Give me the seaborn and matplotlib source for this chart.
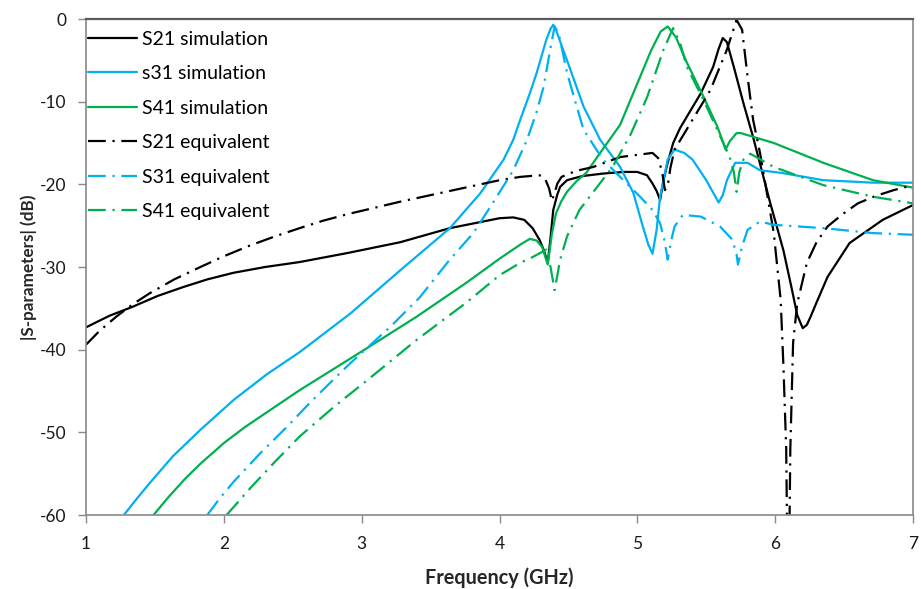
import matplotlib
matplotlib.use("Agg")
import matplotlib.pyplot as plt
import seaborn as sns

# ---- S21 (black) ----
freq_s21_sim = [1.0, 1.17, 1.34, 1.52, 1.71, 1.88, 2.07, 2.3, 2.55, 2.9, 3.28, 3.64, 4.0,
                4.1, 4.18, 4.24, 4.29, 4.32, 4.35, 4.37, 4.39, 4.42, 4.44, 4.49, 4.6, 4.75,
                4.9, 5.0, 5.07, 5.11, 5.14, 5.165, 5.19, 5.22, 5.26, 5.31, 5.36, 5.46, 5.55,
                5.59, 5.62, 5.65, 5.70, 5.77, 5.84, 5.96, 6.06, 6.12, 6.16, 6.2, 6.23, 6.26,
                6.3, 6.38, 6.54, 6.78, 7.0]
db_s21_sim = [-37.3, -35.9, -34.8, -33.5, -32.4, -31.5, -30.7, -30.0, -29.4, -28.3, -27.0,
              -25.3, -24.1, -24.0, -24.3, -25.3, -26.7, -27.9, -29.5, -26.5, -23.1, -21.2,
              -20.3, -19.5, -19.0, -18.7, -18.5, -18.5, -18.9, -19.9, -20.8, -21.9, -19.5,
              -17.4, -15.0, -13.2, -11.8, -9.0, -5.8, -3.6, -2.3, -2.8, -5.8, -10.2, -14.3,
              -22.0, -28.0, -32.6, -35.8, -37.4, -37.0, -35.9, -34.3, -31.2, -27.1, -24.3,
              -22.5]

freq_s21_eq = [1.0, 1.1, 1.22, 1.34, 1.46, 1.64, 1.83, 2.0, 2.19, 2.37, 2.55, 2.72, 2.9,
               3.28, 3.64, 4.0, 4.15, 4.29, 4.33, 4.36, 4.38, 4.40, 4.42, 4.45, 4.55, 4.68,
               4.875, 5.11, 5.15, 5.18, 5.20, 5.22, 5.24, 5.27, 5.40, 5.53, 5.65, 5.72,
               5.76, 5.80, 5.84, 5.89, 5.99, 6.04, 6.06, 6.08, 6.095, 6.11, 6.13, 6.16,
               6.23, 6.30, 6.38, 6.49, 6.60, 6.73, 6.86, 7.0]
db_s21_eq = [-39.4, -37.7, -36.0, -34.5, -33.2, -31.5, -30.0, -28.7, -27.4, -26.3, -25.3,
             -24.4, -23.6, -22.1, -20.8, -19.5, -19.1, -18.9, -19.3, -20.5, -22.0, -21.0,
             -19.9, -19.1, -18.4, -17.9, -16.7, -16.2, -16.8, -18.5, -20.7, -20.2, -18.0,
             -15.8, -12.2, -8.6, -3.7, -0.1, -1.3, -7.0, -12.2, -16.2, -25.9, -34.0, -42.0,
             -52.0, -75.0, -52.0, -39.2, -34.4, -29.5, -27.0, -25.1, -23.6, -22.3, -21.4,
             -20.7, -20.1]

# ---- S31 (blue) ----
freq_s31_sim = [1.275, 1.37, 1.464, 1.63, 1.83, 2.07, 2.31, 2.55, 2.92, 3.28, 3.64, 3.86,
                4.03, 4.10, 4.15, 4.22, 4.27, 4.31, 4.34, 4.37, 4.39, 4.41, 4.45, 4.49,
                4.55, 4.61, 4.73, 4.875, 4.97, 5.04, 5.08, 5.11, 5.14, 5.165, 5.22, 5.27,
                5.34, 5.40, 5.50, 5.56, 5.59, 5.62, 5.65, 5.71, 5.80, 5.89, 6.04, 6.35,
                6.71, 7.0]
db_s31_sim = [-60.0, -58.0, -56.1, -52.9, -49.7, -46.1, -43.0, -40.3, -35.6, -30.4, -25.3,
              -21.1, -17.0, -14.6, -12.2, -9.0, -6.5, -4.2, -2.5, -1.2, -0.7, -1.3, -3.2,
              -5.0, -7.8, -10.6, -14.6, -17.9, -21.0, -25.1, -27.3, -28.4, -25.5, -21.5,
              -17.0, -15.8, -16.2, -17.0, -19.5, -21.3, -22.2, -21.3, -19.5, -17.4, -17.4,
              -18.3, -18.6, -19.5, -19.8, -19.8]

freq_s31_eq = [1.88, 1.97, 2.07, 2.26, 2.46, 2.62, 2.79, 2.92, 3.21, 3.42, 3.64, 3.81,
               3.95, 4.10, 4.20, 4.27, 4.32, 4.37, 4.40, 4.43, 4.49, 4.55, 4.61, 4.75,
               4.875, 5.02, 5.11, 5.165, 5.20, 5.22, 5.25, 5.27, 5.33, 5.46, 5.60, 5.69,
               5.72, 5.73, 5.76, 5.80, 5.89, 5.99, 6.35, 6.71, 7.0]
db_s31_eq = [-60.0, -58.0, -56.0, -52.6, -49.3, -46.5, -43.7, -41.6, -37.2, -33.7, -29.1,
             -25.9, -22.3, -18.3, -14.6, -11.2, -8.2, -3.5, -0.9, -1.8, -6.5, -10.0, -13.4,
             -17.0, -19.1, -21.5, -23.1, -24.7, -27.0, -29.1, -26.5, -25.1, -23.7, -23.9,
             -25.1, -26.7, -28.5, -29.7, -27.5, -25.5, -24.5, -24.9, -25.3, -25.9, -26.1]

# ---- S41 (green) ----
freq_s41_sim = [1.49, 1.6, 1.72, 1.83, 2.0, 2.15, 2.31, 2.55, 2.8, 3.04, 3.40, 3.76, 4.0,
                4.15, 4.22, 4.27, 4.31, 4.35, 4.38, 4.41, 4.45, 4.49, 4.56, 4.63, 4.73,
                4.875, 5.02, 5.10, 5.17, 5.22, 5.28, 5.36, 5.48, 5.58, 5.62, 5.64, 5.67,
                5.72, 5.75, 5.99, 6.35, 6.71, 7.0]
db_s41_sim = [-60.0, -57.8, -55.6, -53.8, -51.3, -49.4, -47.6, -44.9, -42.3, -39.8, -36.0,
              -31.9, -29.0, -27.3, -26.6, -26.8, -27.6, -29.7, -26.0, -23.5, -22.0, -20.9,
              -19.6, -18.6, -16.2, -12.8, -7.0, -3.8, -1.5, -0.9, -2.2, -5.3, -9.4, -13.0,
              -14.8, -15.8, -14.8, -13.8, -13.8, -15.0, -17.4, -19.5, -20.4]

freq_s41_eq = [2.02, 2.2, 2.38, 2.55, 2.8, 3.04, 3.40, 3.76, 4.0, 4.15, 4.24, 4.34, 4.37,
               4.40, 4.42, 4.44, 4.49, 4.58, 4.70, 4.82, 4.95, 5.07, 5.19, 5.26, 5.31,
               5.36, 5.48, 5.58, 5.67, 5.70, 5.72, 5.74, 5.77, 5.82, 5.99, 6.35, 6.71, 7.0]
db_s41_eq = [-60.0, -56.6, -53.4, -50.5, -46.9, -43.7, -38.8, -34.3, -31.0, -29.5, -28.8,
             -27.9, -30.0, -32.8, -31.0, -29.1, -26.3, -23.1, -20.5, -17.9, -14.0, -9.5,
             -3.7, -1.1, -2.9, -5.8, -9.8, -13.4, -16.7, -18.5, -20.9, -18.5, -17.0, -16.3,
             -17.9, -20.1, -21.5, -22.3]

labels = ["S21 simulation", "s31 simulation", "S41 simulation",
          "S21 equivalent", "S31 equivalent", "S41 equivalent"]
freqs = [freq_s21_sim, freq_s31_sim, freq_s41_sim, freq_s21_eq, freq_s31_eq, freq_s41_eq]
levels = [db_s21_sim, db_s31_sim, db_s41_sim, db_s21_eq, db_s31_eq, db_s41_eq]

x_ticks = [1, 2, 3, 4, 5, 6, 7]
y_ticks = [-60, -50, -40, -30, -20, -10, 0]

# line appearance
BLACK, BLUE, GREEN = "#000000", "#00B0F0", "#00B050"
colors = [BLACK, BLUE, GREEN, BLACK, BLUE, GREEN]
dash_dot = (0, (8, 3, 1, 3))
styles = ["-", "-", "-", dash_dot, dash_dot, dash_dot]

sns.set_theme(style="white")
plt.rcParams["font.family"] = ["Lato", "DejaVu Sans"]
plt.rcParams["text.color"] = "#000000"

fig = plt.figure(figsize=(9.21, 5.89), dpi=100)
ax = fig.add_axes([86 / 921, 74 / 589, 827 / 921, 496 / 589])

for lab, f, d, c, ls in zip(labels, freqs, levels, colors, styles):
    sns.lineplot(x=f, y=d, ax=ax, color=c, linestyle=ls, linewidth=1.6,
                 label=lab, sort=False, estimator=None)

ax.set_xlim(1, 7)
ax.set_ylim(-60, 0)
ax.set_xticks(x_ticks)
ax.set_yticks(y_ticks)
ax.set_xticklabels([str(v) for v in x_ticks])
ax.set_yticklabels([str(v) for v in y_ticks])
ax.tick_params(axis="both", which="major", direction="out", length=6, width=1,
               color="#898989", labelsize=12.5, labelcolor="#1a1a1a", pad=8)
ax.tick_params(axis="x", bottom=True, pad=9)
ax.tick_params(axis="y", left=True)

for side in ["left", "bottom", "right"]:
    ax.spines[side].set_color("#898989")
    ax.spines[side].set_linewidth(1.2)
ax.spines["top"].set_color("#595959")
ax.spines["top"].set_linewidth(1.6)

ax.set_xlabel("Frequency (GHz)", fontsize=14.3, fontweight="bold", labelpad=11)
ax.set_ylabel("|S-parameters| (dB)", fontsize=12.3, fontweight="bold", labelpad=2)

leg = ax.legend(loc="upper left", bbox_to_anchor=(-0.0093, 0.996), frameon=False,
                fontsize=14, handlelength=2.5, handletextpad=0.26, labelspacing=0.9,
                borderaxespad=0.0, borderpad=0.5)

fig.savefig("out.png", dpi=100)
